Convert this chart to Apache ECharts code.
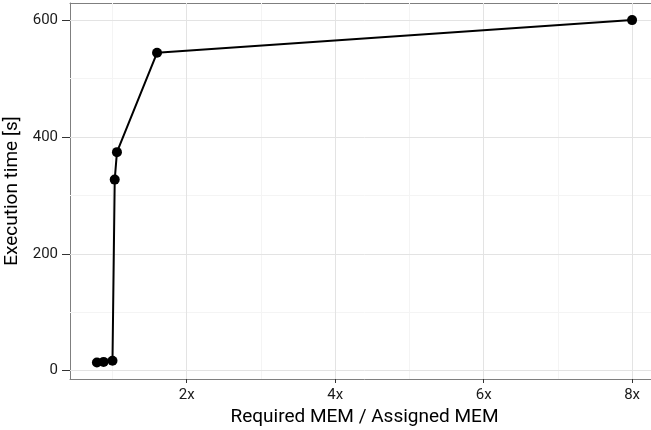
<!DOCTYPE html>
<html>
<head>
<meta charset="utf-8">
<script src="https://cdn.jsdelivr.net/npm/echarts@6/dist/echarts.min.js"></script>
<style>
  html, body { margin: 0; padding: 0; background: #fff; overflow: hidden; }
  /* the plot panel runs past the right edge of the page */
  #wrap { width: 651px; height: 430px; overflow: hidden; position: relative; }
  #chart { width: 680px; height: 430px; position: absolute; left: 0; top: 0; }
</style>
</head>
<body>
<div id="wrap"><div id="chart"></div></div>
<script>
// Memory oversubscription ratio vs. execution time
const ratios = [0.79, 0.88, 1.0, 1.03, 1.06, 1.6, 8.0];
const execSeconds = [14, 15, 17, 327, 374, 544, 600];

const xTicks = [2, 4, 6, 8];
const xMinor = [1, 3, 5, 7];
const yTicks = [0, 200, 400, 600];
const yMinor = [100, 300, 500];

// padded axis ranges around the data
const xRange = [0.4275, 8.3625];
const yRange = [-14.25, 629.25];

const majorColor = '#e3e3e3';
const minorColor = '#f4f4f4';
const panelColor = '#7f7f7f';
const font = 'Roboto';

function vLines(values, color) {
  return values.map(v => [
    { coord: [v, yRange[0]], lineStyle: { color: color, width: 1, type: 'solid' } },
    { coord: [v, yRange[1]] }
  ]);
}
function hLines(values, color) {
  return values.map(v => [
    { coord: [xRange[0], v], lineStyle: { color: color, width: 1, type: 'solid' } },
    { coord: [xRange[1], v] }
  ]);
}

const frameLine = { show: true, onZero: false, lineStyle: { color: panelColor, width: 1 } };

const chart = echarts.init(document.getElementById('chart'), null, { renderer: 'canvas', width: 680, height: 430 });
chart.setOption({
  animation: false,
  backgroundColor: '#ffffff',
  grid: {
    left: 70, top: 3, width: 589, height: 376,
    show: false, containLabel: false, outerBoundsMode: 'none'
  },
  xAxis: [
    {
      type: 'value',
      min: xRange[0], max: xRange[1],
      name: 'Required MEM / Assigned MEM',
      nameLocation: 'middle', nameGap: 25,
      nameTextStyle: { fontFamily: font, fontSize: 19, color: '#000' },
      axisLine: frameLine,
      splitLine: { show: false },
      axisTick: { show: true, length: 4, lineStyle: { color: '#333', width: 1 }, customValues: xTicks },
      axisLabel: { fontFamily: font, fontSize: 15, color: '#1a1a1a', margin: 9,
        customValues: xTicks, formatter: v => v + 'x' }
    },
    {
      type: 'value', position: 'top',
      min: xRange[0], max: xRange[1],
      axisLine: frameLine,
      splitLine: { show: false },
      axisTick: { show: false },
      axisLabel: { show: false }
    }
  ],
  yAxis: {
    type: 'value',
    min: yRange[0], max: yRange[1],
    name: 'Execution time [s]',
    nameLocation: 'middle', nameGap: 41,
    nameTextStyle: { fontFamily: font, fontSize: 19, color: '#000' },
    axisLine: frameLine,
    splitLine: { show: false },
    axisTick: { show: true, length: 8, lineStyle: { color: '#333', width: 1 }, customValues: yTicks },
    axisLabel: { fontFamily: font, fontSize: 15, color: '#1a1a1a', margin: 12, customValues: yTicks }
  },
  series: [
    {
      type: 'line', data: [], silent: true, z: 1,
      markLine: {
        silent: true, symbol: 'none', label: { show: false }, animation: false, z: 1,
        data: [].concat(
          vLines(xMinor, minorColor),
          hLines(yMinor, minorColor),
          vLines(xTicks, majorColor),
          hLines(yTicks, majorColor)
        )
      }
    },
    {
      type: 'line', z: 5,
      data: ratios.map((r, i) => [r, execSeconds[i]]),
      symbol: 'circle', symbolSize: 10,
      lineStyle: { color: '#000', width: 2 },
      itemStyle: { color: '#000' }
    }
  ]
});
</script>
</body>
</html>
